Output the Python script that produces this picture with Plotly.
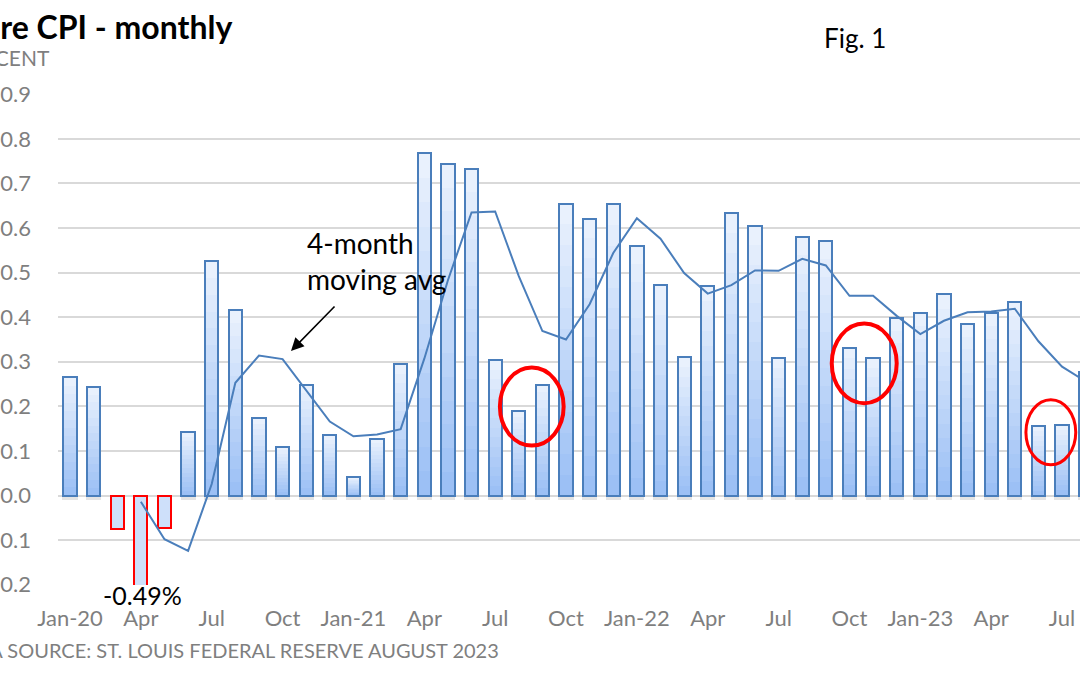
import plotly.graph_objects as go

# ---------------- data ----------------
month_names = ["Jan", "Feb", "Mar", "Apr", "May", "Jun",
               "Jul", "Aug", "Sep", "Oct", "Nov", "Dec"]
years = ["20", "21", "22", "23"]
months = [f"{m}-{y}" for y in years for m in month_names][:44]  # Jan-20 .. Aug-23

core_cpi = [0.265, 0.244, -0.074, -0.49, -0.073, 0.142, 0.525, 0.417, 0.173, 0.110, 0.247, 0.135,
            0.041, 0.126, 0.294, 0.768, 0.744, 0.732, 0.304, 0.190, 0.249, 0.655, 0.621, 0.653,
            0.559, 0.472, 0.311, 0.471, 0.634, 0.604, 0.308, 0.580, 0.572, 0.332, 0.309, 0.398,
            0.410, 0.451, 0.384, 0.409, 0.434, 0.156, 0.159, 0.277]

moving_avg = [None, None, None, -0.014, -0.098, -0.124, 0.026, 0.253, 0.314, 0.306, 0.237, 0.166,
              0.133, 0.137, 0.149, 0.307, 0.483, 0.635, 0.637, 0.492, 0.369, 0.350, 0.429, 0.544,
              0.622, 0.576, 0.499, 0.453, 0.472, 0.505, 0.504, 0.531, 0.516, 0.448, 0.448, 0.403,
              0.362, 0.392, 0.411, 0.413, 0.419, 0.346, 0.289, 0.256]

tick_months = months[0::3]
tick_labels = ["Jan-20", "Apr", "Jul", "Oct", "Jan-21", "Apr", "Jul", "Oct",
               "Jan-22", "Apr", "Jul", "Oct", "Jan-23", "Apr", "Jul"]

# ---------------- styling ----------------
FONT = "Lato"
GRAY = "#7f7f7f"
BLUE_LINE = "#4a7ebb"
TOP_RGB = (233, 241, 253)
BOT_RGB = (156, 192, 245)
BAR_W = 0.56
N_LAYERS = 14

W, H = 1080, 675
ML, MR, MT, MB = 58, 0, 94, 90
PW, PH = W - ML - MR, H - MT - MB


def px(x):
    return (x - ML) / PW


def py(y):
    return (H - MB - y) / PH


fig = go.Figure()

# soft shadow under positive bars
fig.add_trace(go.Bar(
    x=months, y=[-0.009 if v > 0 else None for v in core_cpi], width=0.64,
    marker=dict(color="rgba(90,90,90,0.16)", line=dict(width=0)),
    hoverinfo="skip", showlegend=False))

# gradient fill built from stacked overlay layers
for k in range(N_LAYERS):
    f = 1 - k / N_LAYERS
    t = k / (N_LAYERS - 1)
    c = tuple(round(TOP_RGB[i] + (BOT_RGB[i] - TOP_RGB[i]) * t) for i in range(3))
    fig.add_trace(go.Bar(
        x=months, y=[v * f if v > 0 else None for v in core_cpi], width=BAR_W,
        marker=dict(color=f"rgb{c}", line=dict(width=0)),
        hoverinfo="skip", showlegend=False))

# negative bars fill
fig.add_trace(go.Bar(
    x=months, y=[v if v < 0 else None for v in core_cpi], width=BAR_W,
    marker=dict(color="rgb(206,224,250)", line=dict(width=0)),
    hoverinfo="skip", showlegend=False))

# outlines
fig.add_trace(go.Bar(
    x=months, y=core_cpi, width=BAR_W, name="Core CPI",
    marker=dict(color="rgba(0,0,0,0)",
                line=dict(color=[BLUE_LINE if v > 0 else "#ff0000" for v in core_cpi], width=2)),
    showlegend=False))

# 4-month moving average
fig.add_trace(go.Scatter(
    x=months, y=moving_avg, mode="lines", name="4-month moving avg",
    line=dict(color=BLUE_LINE, width=2), connectgaps=False, showlegend=False))

# red ellipses
ellipses = [(18.2, 20.9, 0.112, 0.287, 4), (32.25, 35.0, 0.207, 0.386, 4), (40.47, 42.58, 0.069, 0.215, 3)]
for x0, x1, y0, y1, lw in ellipses:
    fig.add_shape(type="circle", xref="x", yref="y", x0=x0, x1=x1, y0=y0, y1=y1,
                  line=dict(color="#ff0000", width=lw), layer="above")

annotations = [
    dict(text="<b>Core CPI - monthly</b>", x=px(234), y=py(26), xanchor="right", yanchor="middle",
         font=dict(family=FONT, size=32, color="black")),
    dict(text="PERCENT", x=px(52), y=py(57), xanchor="right", yanchor="middle",
         font=dict(family=FONT, size=21, color=GRAY)),
    dict(text="DATA SOURCE: ST. LOUIS FEDERAL RESERVE AUGUST 2023", x=px(501), y=py(650),
         xanchor="right", yanchor="middle", font=dict(family=FONT, size=20, color=GRAY)),
    dict(text="Fig. 1", x=px(822), y=py(38), xanchor="left", yanchor="middle",
         font=dict(family=FONT, size=26, color="black")),
    dict(text="-0.49%", x=px(142), y=py(595), xanchor="center", yanchor="middle",
         font=dict(family=FONT, size=25, color="black")),
    dict(text="4-month<br>moving avg", x=px(305), y=py(261), xanchor="left", yanchor="middle",
         align="left", font=dict(family=FONT, size=28, color="black")),
]
for a in annotations:
    a.update(xref="paper", yref="paper", showarrow=False)

# arrow
annotations.append(dict(text="", xref="paper", yref="paper", x=px(291), y=py(351),
                        ax=45, ay=-46, axref="pixel", ayref="pixel", showarrow=True,
                        arrowhead=2, arrowsize=1.6, arrowwidth=1.6, arrowcolor="black"))

fig.update_layout(
    width=W, height=H, autosize=False,
    margin=dict(l=ML, r=MR, t=MT, b=MB, pad=0),
    paper_bgcolor="white", plot_bgcolor="white",
    barmode="overlay", bargap=0,
    font=dict(family=FONT, color=GRAY),
    annotations=annotations,
    xaxis=dict(type="category", categoryorder="array", categoryarray=months,
               range=[-0.508, 42.76], showgrid=False, zeroline=False, showline=False,
               tickmode="array", tickvals=tick_months, ticktext=tick_labels,
               tickfont=dict(family=FONT, size=22, color=GRAY), ticks="",
               ticklabelstandoff=18, automargin=False, fixedrange=True),
    yaxis=dict(range=[-0.2006, 0.9006], dtick=0.1, tick0=0, tickformat=".1f",
               showgrid=True, gridcolor="#d9d9d9", gridwidth=1.5,
               zeroline=False, showline=False, ticks="",
               tickfont=dict(family=FONT, size=22, color=GRAY),
               ticklabelstandoff=26, automargin=False, fixedrange=True),
)

fig.write_html("out.html", config={"displayModeBar": False},
               post_script="document.body.style.margin='0px';document.body.style.overflow='hidden';")
